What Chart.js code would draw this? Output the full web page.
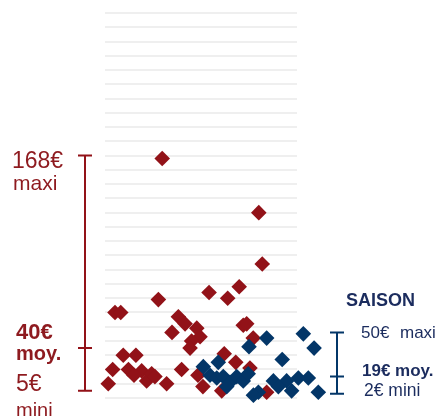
<!DOCTYPE html>
<html lang="fr">
<head>
<meta charset="UTF-8">
<title>Prix saison</title>
<script src="https://cdn.jsdelivr.net/npm/chart.js"></script>
<style>
  html, body { margin: 0; padding: 0; background: #fff; }
  #wrap { width: 440px; height: 416px; position: relative; }
</style>
</head>
<body>
<div id="wrap"><canvas id="chart" width="440" height="416"></canvas></div>
<script>
// positions horizontales (dispersion) et prix en euros
const redX = [29.8, 80.1, 81.9, 27.8, 5.2, 8.2, 54.2, 63.9, 69.9, 38.2, 41.7, 47.8, 49.5, 45.1, 44.3,
  72.0, 73.8, 9.5, 16.1, 4.0, 1.7, 12.2, 19.1, 21.7, 24.3, 26.0, 32.1, 15.1, 39.9, 62.1, 68.1,
  77.2, 75.5, 84.2, 48.4, 51.0, 60.8, 34.9];
const redY = [168, 130, 94, 69, 60, 60, 74, 70, 78, 57, 52, 49, 43, 40, 35,
  51, 52, 30, 30, 20, 10, 20, 19, 12, 17, 15, 10, 16, 20, 31, 25,
  42, 21, 4, 16, 8, 5, 46];

const blueX = [103.3, 84.2, 108.9, 75.0, 92.3, 51.2, 59.0, 54.7, 58.2, 61.6, 65.1, 68.6, 72.0,
  63.4, 74.6, 87.7, 94.6, 100.7, 105.9, 90.3, 97.2, 79.9, 77.3, 111.1];
const blueY = [45, 42, 35, 36, 27, 22, 25, 16, 14, 15, 11, 15, 12,
  8, 17, 12, 12, 14, 14, 8, 5, 4, 2, 4];

const redLabels = ['168€', 'maxi', '40€', 'moy.', '5€', 'mini'];
const blueLabels = ['SAISON', '50€', 'maxi', '19€ moy.', '2€ mini'];

const RED = '#921218';
const RED_TXT = '#8e1a1f';
const BLUE = '#033668';
const BLUE_TXT = '#1b2c5e';

const toPts = (xs, ys) => xs.map((x, i) => ({ x: x, y: ys[i] }));

// lignes horizontales : seulement sur la zone 0..100
const gridPlugin = {
  id: 'shortGrid',
  beforeDatasetsDraw(chart) {
    const ctx = chart.ctx;
    const y = chart.scales.y;
    const x = chart.scales.x;
    const x0 = x.getPixelForValue(0);
    const x1 = x.getPixelForValue(100);
    ctx.save();
    ctx.strokeStyle = '#efefef';
    ctx.lineWidth = 2;
    ctx.beginPath();
    y.ticks.forEach(t => {
      const py = Math.round(y.getPixelForValue(t.value));
      ctx.moveTo(x0, py);
      ctx.lineTo(x1, py);
    });
    ctx.stroke();
    ctx.restore();
  }
};

// accolades min / moy / max + textes
const bracketPlugin = {
  id: 'brackets',
  afterDatasetsDraw(chart) {
    const ctx = chart.ctx;
    const y = chart.scales.y;
    function bracket(x, levels, color) {
      const [lo, mid, hi] = levels.map(v => y.getPixelForValue(v));
      ctx.save();
      ctx.strokeStyle = color;
      ctx.lineWidth = 2;
      ctx.beginPath();
      ctx.moveTo(x, hi); ctx.lineTo(x, lo);
      ctx.moveTo(x - 7, hi); ctx.lineTo(x + 7, hi);
      ctx.moveTo(x - 7, mid); ctx.lineTo(x + 7, mid);
      ctx.moveTo(x - 7, lo); ctx.lineTo(x + 7, lo);
      ctx.stroke();
      ctx.restore();
    }
    bracket(85, [5, 35, 170], RED);
    bracket(337, [3, 15, 46], BLUE);

    ctx.save();
    ctx.textBaseline = 'alphabetic';
    ctx.textAlign = 'left';
    ctx.fillStyle = RED_TXT;
    ctx.font = '23px "Liberation Sans", Arial, sans-serif';
    ctx.fillText(redLabels[0], 12, 168);
    ctx.font = '21px "Liberation Sans", Arial, sans-serif';
    ctx.fillText(redLabels[1], 13, 190);
    ctx.font = 'bold 22px "Liberation Sans", Arial, sans-serif';
    ctx.fillText(redLabels[2], 16, 339);
    ctx.font = 'bold 20px "Liberation Sans", Arial, sans-serif';
    ctx.fillText(redLabels[3], 16, 360);
    ctx.font = '23px "Liberation Sans", Arial, sans-serif';
    ctx.fillText(redLabels[4], 16, 391);
    ctx.font = '20px "Liberation Sans", Arial, sans-serif';
    ctx.fillText(redLabels[5], 16, 417);

    ctx.fillStyle = BLUE_TXT;
    ctx.font = 'bold 18px "Liberation Sans", Arial, sans-serif';
    ctx.fillText(blueLabels[0], 346, 306);
    ctx.font = '17px "Liberation Sans", Arial, sans-serif';
    ctx.fillText(blueLabels[1], 361, 338);
    ctx.fillText(blueLabels[2], 400, 338);
    ctx.font = 'bold 17px "Liberation Sans", Arial, sans-serif';
    ctx.fillText(blueLabels[3], 362, 376);
    ctx.font = '17.5px "Liberation Sans", Arial, sans-serif';
    ctx.fillText(blueLabels[4], 364, 396);
    ctx.restore();
  }
};

new Chart(document.getElementById('chart').getContext('2d'), {
  type: 'scatter',
  data: {
    datasets: [
      {
        label: 'Saison',
        data: toPts(blueX, blueY),
        backgroundColor: BLUE,
        borderWidth: 0,
        pointStyle: 'rectRot',
        pointRadius: 7.8,
        clip: false
      },
      {
        label: 'Hors saison',
        data: toPts(redX, redY),
        backgroundColor: RED,
        borderWidth: 0,
        pointStyle: 'rectRot',
        pointRadius: 7.8,
        clip: false
      }
    ]
  },
  options: {
    responsive: false,
    animation: false,
    events: [],
    layout: { padding: { left: 105, right: 104.6, top: 13, bottom: 18 } },
    plugins: { legend: { display: false }, tooltip: { enabled: false } },
    scales: {
      x: { type: 'linear', min: 0, max: 120, display: false },
      y: {
        min: 0,
        max: 270,
        ticks: { stepSize: 10, display: false },
        border: { display: false },
        grid: { display: false, drawTicks: false }
      }
    }
  },
  plugins: [gridPlugin, bracketPlugin]
});
</script>
</body>
</html>
